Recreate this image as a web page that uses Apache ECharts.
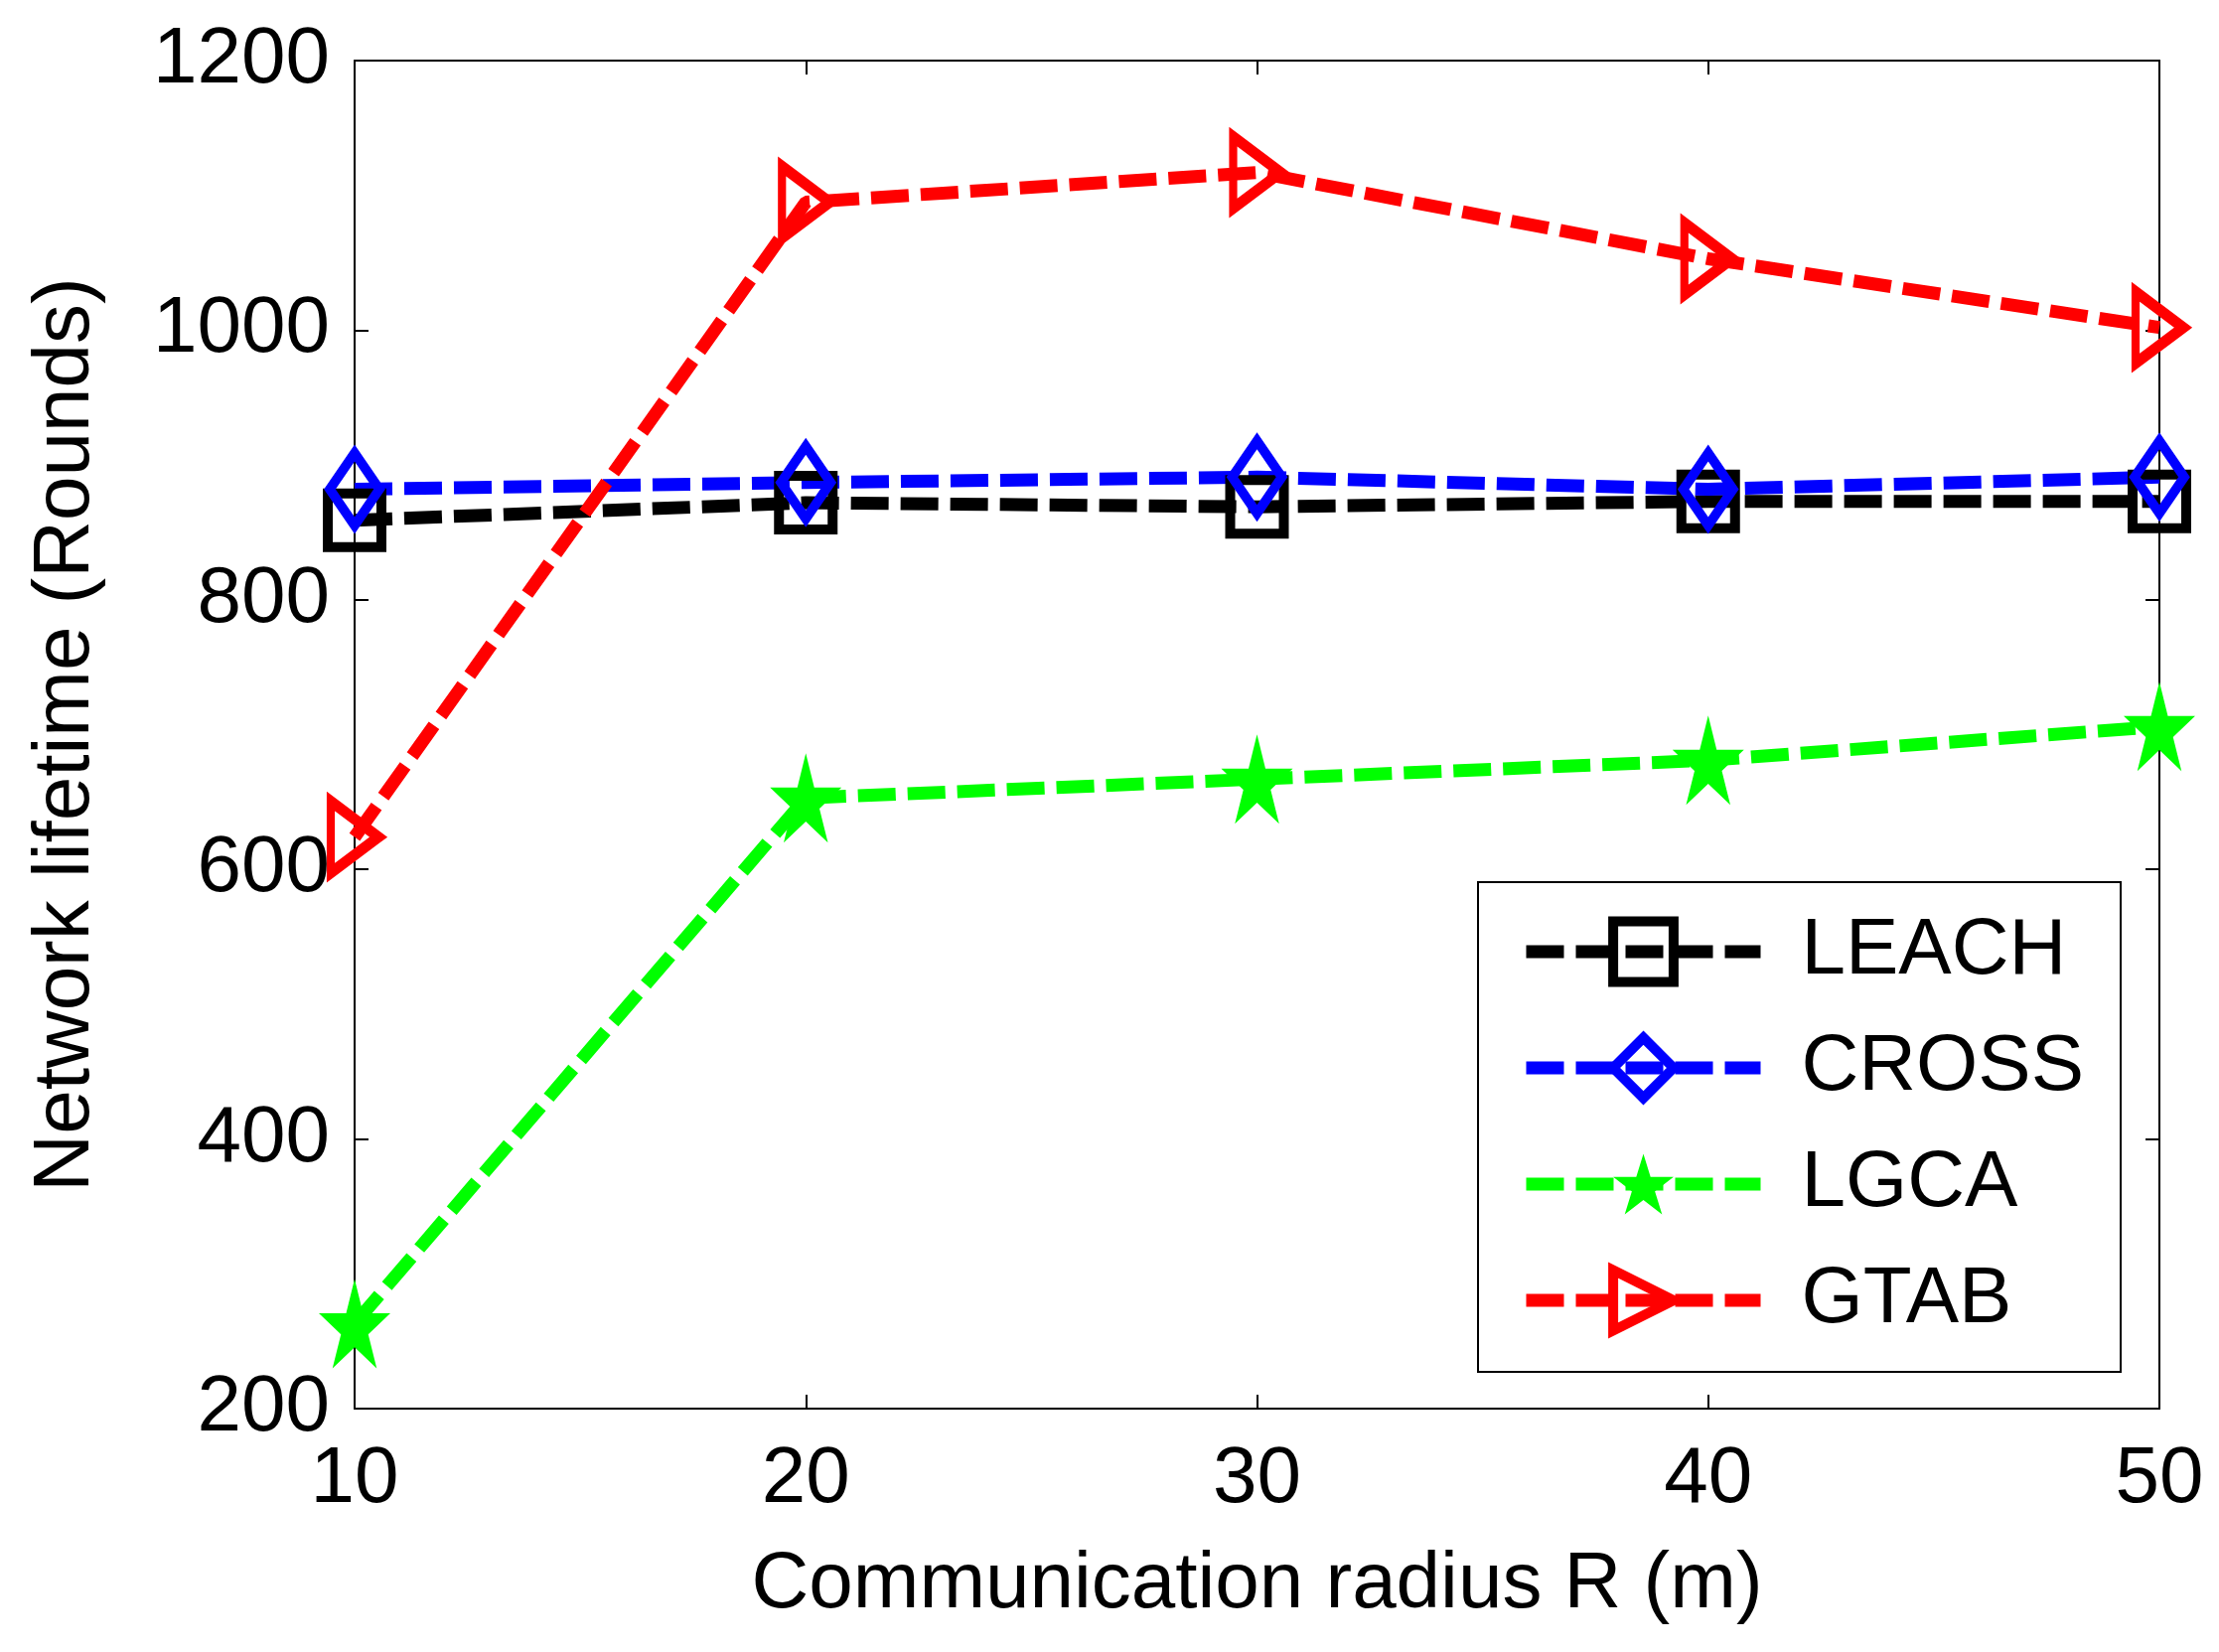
<!DOCTYPE html>
<html>
<head>
<meta charset="utf-8">
<title>Network lifetime vs communication radius</title>
<script src="https://cdn.jsdelivr.net/npm/echarts@6/dist/echarts.min.js"></script>
<style>
    html, body { margin: 0; padding: 0; background: #ffffff; }
    #graph { width: 2234px; height: 1663px; }
</style>
</head>
<body>
<div id="graph"></div>
<script>
// x axis categories (communication radius, m)
var radius = [10, 20, 30, 40, 50];
// y axis ticks
var yTicks = [200, 400, 600, 800, 1000, 1200];
// series names
var names = ['LEACH', 'CROSS', 'LGCA', 'GTAB'];
// network lifetime (rounds)
var leach = [859, 872, 869, 873, 873];
var cross = [882, 887, 891, 882, 891];
var lgca  = [263, 653, 667, 681, 706];
var gtab  = [624, 1095, 1117, 1053, 1002];

(function () {
    'use strict';
    var FONT = '"Liberation Sans", Arial, Helvetica, sans-serif';
    var DASH = [38, 12];
    var STAR = 'path://M0,-1 L0.2245,-0.309 L0.951,-0.309 L0.363,0.118 L0.588,0.809 L0,0.382 L-0.588,0.809 L-0.363,0.118 L-0.951,-0.309 L-0.2245,-0.309 Z';
    var colors = ['#000000', '#0000ff', '#00ff00', '#ff0000'];

    // pair radius with values
    var toPoints = function (vals) {
        var pts = [];
        for (var i = 0; i < radius.length; i++) {
            pts.push([radius[i], vals[i]]);
        }
        return pts;
    };

    var markStyle = function (color, hollow) {
        return hollow
            ? { color: 'rgba(0,0,0,0)', borderColor: color, borderWidth: 10 }
            : { color: color, borderColor: color, borderWidth: 0 };
    };

    var makeSeries = function (idx, vals, symbol, size, rotate, hollow) {
        return {
            name: names[idx],
            type: 'line',
            data: toPoints(vals),
            symbol: symbol,
            symbolSize: size,
            symbolRotate: rotate,
            showAllSymbol: true,
            lineStyle: { color: colors[idx], width: 13, type: DASH, cap: 'butt' },
            itemStyle: markStyle(colors[idx], hollow),
            emphasis: { disabled: true }
        };
    };

    // legend entries carry their own line/marker style
    var hollowFlags = [true, true, false, true];
    var legendData = [];
    for (var k = 0; k < names.length; k++) {
        legendData.push({
            name: names[k],
            lineStyle: { color: colors[k], width: 13, type: DASH, cap: 'butt' },
            itemStyle: markStyle(colors[k], hollowFlags[k])
        });
    }

    var axisText = { color: '#000', fontSize: 80, fontFamily: FONT };
    var tick = { show: true, inside: true, length: 14, lineStyle: { color: '#000', width: 2 } };
    var line = { show: true, lineStyle: { color: '#000', width: 2 } };
    var plain = function (v) { return String(v); };

    var option = {
        animation: false,
        backgroundColor: '#ffffff',
        grid: { left: 357, right: 60, top: 61, bottom: 245, containLabel: false },
        legend: {
            orient: 'vertical',
            left: 1488,
            top: 888,
            data: legendData,
            itemWidth: 236,
            itemHeight: 76,
            itemGap: 37,
            padding: [30, 37, 32, 42],
            borderColor: '#000',
            borderWidth: 2,
            backgroundColor: '#ffffff',
            selectedMode: false,
            textStyle: { color: '#000', fontSize: 80, fontFamily: FONT, padding: [0, 0, 0, 36] }
        },
        xAxis: [{
            type: 'value',
            min: radius[0],
            max: radius[radius.length - 1],
            interval: 10,
            name: 'Communication radius R (m)',
            nameLocation: 'middle',
            nameGap: 138,
            nameTextStyle: axisText,
            axisLine: line,
            axisTick: tick,
            axisLabel: { color: '#000', fontSize: 80, fontFamily: FONT, margin: 32, formatter: plain },
            splitLine: { show: false }
        }, {
            type: 'value',
            position: 'top',
            min: radius[0],
            max: radius[radius.length - 1],
            interval: 10,
            axisLine: line,
            axisTick: tick,
            axisLabel: { show: false },
            splitLine: { show: false }
        }],
        yAxis: [{
            type: 'value',
            min: yTicks[0],
            max: yTicks[yTicks.length - 1],
            interval: 200,
            name: 'Network lifetime (Rounds)',
            nameLocation: 'middle',
            nameGap: 250,
            nameTextStyle: axisText,
            axisLine: line,
            axisTick: tick,
            axisLabel: { color: '#000', fontSize: 80, fontFamily: FONT, margin: 25, formatter: plain },
            splitLine: { show: false }
        }, {
            type: 'value',
            position: 'right',
            min: yTicks[0],
            max: yTicks[yTicks.length - 1],
            interval: 200,
            axisLine: line,
            axisTick: tick,
            axisLabel: { show: false },
            splitLine: { show: false }
        }],
        series: [
            makeSeries(0, leach, 'rect', [54, 54], 0, true),
            makeSeries(1, cross, 'diamond', [50, 73], 0, true),
            makeSeries(2, lgca, STAR, [72, 90], 0, false),
            makeSeries(3, gtab, 'triangle', [72, 48], -90, true)
        ]
    };

    var dom = document.getElementById('graph');
    var chart = echarts.init(dom, null, { renderer: 'canvas' });
    chart.setOption(option);
}());
</script>
</body>
</html>
